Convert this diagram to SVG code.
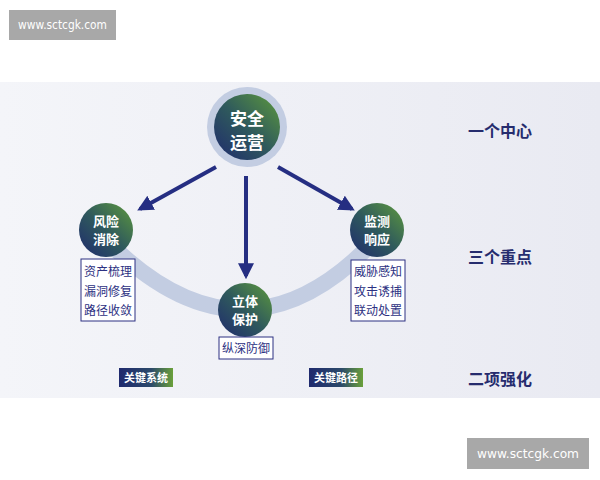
<svg xmlns="http://www.w3.org/2000/svg" width="600" height="480" viewBox="0 0 600 480">
<defs>
<linearGradient id="bg" x1="0" y1="0" x2="1" y2="0"><stop offset="0" stop-color="#f4f5f9"/><stop offset="1" stop-color="#e9eaf2"/></linearGradient>
<linearGradient id="ng" x1="0" y1="1" x2="1" y2="0"><stop offset="0" stop-color="#1f2a6e"/><stop offset="0.5" stop-color="#2f5a5c"/><stop offset="1" stop-color="#5e9a3c"/></linearGradient>
<linearGradient id="bd" x1="0" y1="0" x2="1" y2="0"><stop offset="0" stop-color="#1f2a6e"/><stop offset="0.6" stop-color="#2c4a6a"/><stop offset="1" stop-color="#6aa03a"/></linearGradient>
<marker id="ah" viewBox="0 0 10 10" refX="8" refY="5" markerWidth="4" markerHeight="4" orient="auto"><path d="M0,0 L10,5 L0,10 z" fill="#252e82"/></marker>
<style>
.n{font-family:"Noto Sans CJK SC",sans-serif;font-weight:bold;fill:#fff;text-anchor:middle}
.t{font-family:"Noto Sans CJK SC",sans-serif;font-size:12px;fill:#2d3182;text-anchor:middle}
.h{font-family:"Noto Sans CJK SC",sans-serif;font-size:16px;font-weight:bold;fill:#262c6e;text-anchor:middle}
.box{fill:#fff;stroke:#2d3182;stroke-width:1}
.w{font-family:"DejaVu Sans",sans-serif;font-size:12px;fill:#fff}
</style>
</defs>
<rect width="600" height="480" fill="#fff"/>
<rect x="0" y="82" width="600" height="316" fill="url(#bg)"/>
<g id="watermarks">
<rect x="9" y="10" width="107" height="30" fill="#a8a8a8"/><text class="w" x="18" y="29" textLength="89" lengthAdjust="spacingAndGlyphs">www.sctcgk.com</text>
<rect x="467" y="438" width="122" height="31" fill="#a8a8a8"/><text class="w" x="477" y="458" textLength="102" lengthAdjust="spacingAndGlyphs">www.sctcgk.com</text>
</g>
<path d="M106,240 Q245,380 377,238" fill="none" stroke="#c3cde2" stroke-width="16"/>
<g id="connectors" stroke="#252e82" stroke-width="4" fill="none" marker-end="url(#ah)">
<line x1="216" y1="167" x2="140" y2="209"/>
<line x1="246" y1="176" x2="246" y2="276"/>
<line x1="278" y1="167" x2="352" y2="209"/>
</g>
<g id="center"><circle cx="247" cy="127" r="40" fill="#c3cde2"/><circle cx="247" cy="127" r="33" fill="url(#ng)"/>
<text class="n" font-size="17" x="247" y="125">安全</text><text class="n" font-size="17" x="247" y="149">运营</text></g>
<g id="left"><circle cx="106" cy="230" r="27" fill="url(#ng)"/>
<text class="n" font-size="13" x="106" y="226">风险</text><text class="n" font-size="13" x="106" y="244">消除</text>
<rect class="box" x="81" y="259" width="54" height="62"/>
<text class="t" x="108" y="276">资产梳理</text><text class="t" x="108" y="296">漏洞修复</text><text class="t" x="108" y="315">路径收敛</text></g>
<g id="right"><circle cx="377" cy="230" r="27" fill="url(#ng)"/>
<text class="n" font-size="13" x="377" y="226">监测</text><text class="n" font-size="13" x="377" y="244">响应</text>
<rect class="box" x="351" y="260" width="54" height="61"/>
<text class="t" x="378" y="276">威胁感知</text><text class="t" x="378" y="296">攻击诱捕</text><text class="t" x="378" y="315">联动处置</text></g>
<g id="bottom"><circle cx="245" cy="310" r="27" fill="url(#ng)"/>
<text class="n" font-size="13" x="245" y="306">立体</text><text class="n" font-size="13" x="245" y="324">保护</text>
<rect class="box" x="219" y="337" width="54" height="22"/>
<text class="t" x="246" y="353">纵深防御</text></g>
<g id="badges">
<rect x="119" y="368" width="54" height="19" fill="url(#bd)"/><text class="n" font-size="11" x="146" y="382">关键系统</text>
<rect x="309" y="368" width="54" height="19" fill="url(#bd)"/><text class="n" font-size="11" x="336" y="382">关键路径</text>
</g>
<g id="headings">
<text class="h" x="500" y="137">一个中心</text><text class="h" x="500" y="263">三个重点</text><text class="h" x="500" y="385">二项强化</text>
</g>
</svg>
